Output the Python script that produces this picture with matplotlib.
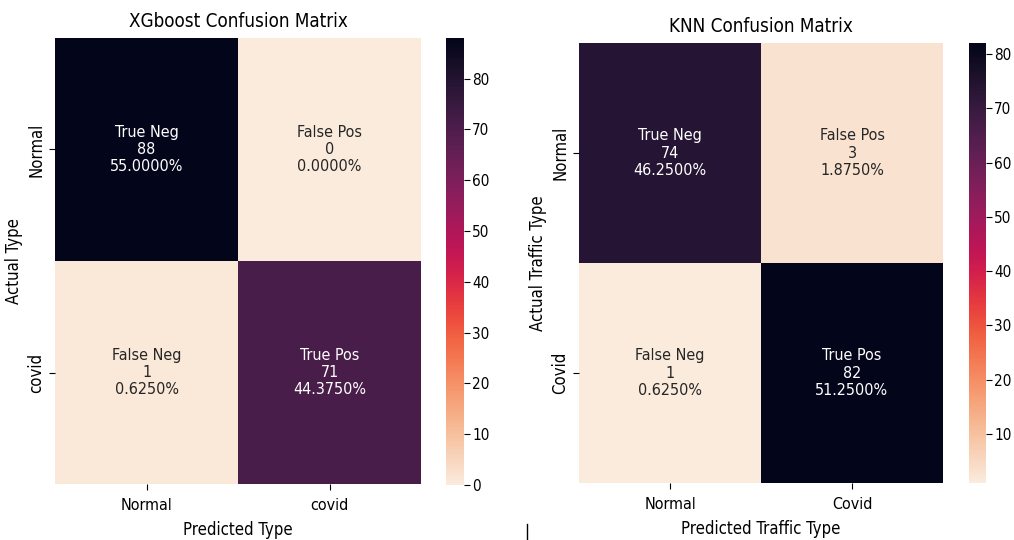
import matplotlib
matplotlib.use("Agg")
import matplotlib.pyplot as plt
import numpy as np
import seaborn as sns
from matplotlib.lines import Line2D
from matplotlib import font_manager

cands = [(f.name, f.stretch) for f in font_manager.fontManager.ttflist
         if f.style == 'normal' and f.weight in (400, 'normal', 'regular')]
chosen = None
for want in [('DejaVu Sans', 'condensed'), ('Liberation Sans Narrow', None)]:
    for n, s in cands:
        if n == want[0] and (want[1] is None or 'condensed' in str(s)):
            chosen = (n, s)
            break
    if chosen:
        break
if chosen is None:
    chosen = ('DejaVu Sans', 'normal')
plt.rcParams['font.family'] = [chosen[0], 'DejaVu Sans']
plt.rcParams['font.stretch'] = chosen[1]

cell_names = ["True Neg", "False Pos", "False Neg", "True Pos"]

xgb_counts = [[88, 0], [1, 71]]
xgb_xticks = ["Normal", "covid"]
xgb_yticks = ["Normal", "covid"]

knn_counts = [[74, 3], [1, 82]]
knn_xticks = ["Normal", "Covid"]
knn_yticks = ["Normal", "Covid"]

W, H = 1014, 540
fig = plt.figure(figsize=(W / 100, H / 100), dpi=100)


def px_axes(x0, y0, x1, y1):
    return fig.add_axes([x0 / W, 1 - y1 / H, (x1 - x0) / W, (y1 - y0) / H])


def draw(ax, cax, counts, xt, yt, title, xlabel, ylabel):
    arr = np.array(counts)
    total = arr.sum()
    flat = arr.flatten()
    annot = np.array([f"{n}\n{v}\n{v / total:.4%}" for n, v in zip(cell_names, flat)]).reshape(2, 2)
    sns.heatmap(arr, annot=annot, fmt="", cmap="rocket_r", ax=ax, cbar_ax=cax,
                xticklabels=xt, yticklabels=yt,
                annot_kws={"fontsize": 11.5})
    ax.set_title(title, fontsize=13.5, pad=8)
    ax.set_xlabel(xlabel, fontsize=12, labelpad=6)
    ax.set_ylabel(ylabel, fontsize=12, labelpad=3)
    ax.tick_params(axis='x', labelsize=11.5, length=4, pad=6)
    ax.tick_params(axis='y', labelsize=12, length=4, pad=3)
    for lab in ax.get_yticklabels():
        lab.set_rotation(90)
        lab.set_va('center')
    cax.tick_params(labelsize=11, length=4, pad=2)


ax1 = px_axes(55, 38, 421, 484)
cax1 = px_axes(446, 38, 464, 485)
draw(ax1, cax1, xgb_counts, xgb_xticks, xgb_yticks,
     "XGboost Confusion Matrix", "Predicted Type", "Actual Type")

ax2 = px_axes(579, 43, 943, 483)
cax2 = px_axes(969, 43, 986, 483)
draw(ax2, cax2, knn_counts, knn_xticks, knn_yticks,
     "KNN Confusion Matrix", "Predicted Traffic Type", "Actual Traffic Type")

fig.add_artist(Line2D([527 / W, 527 / W], [1 - 540 / H, 1 - 524 / H],
                      transform=fig.transFigure, color='black', lw=1))

fig.savefig("out.png", dpi=100)
